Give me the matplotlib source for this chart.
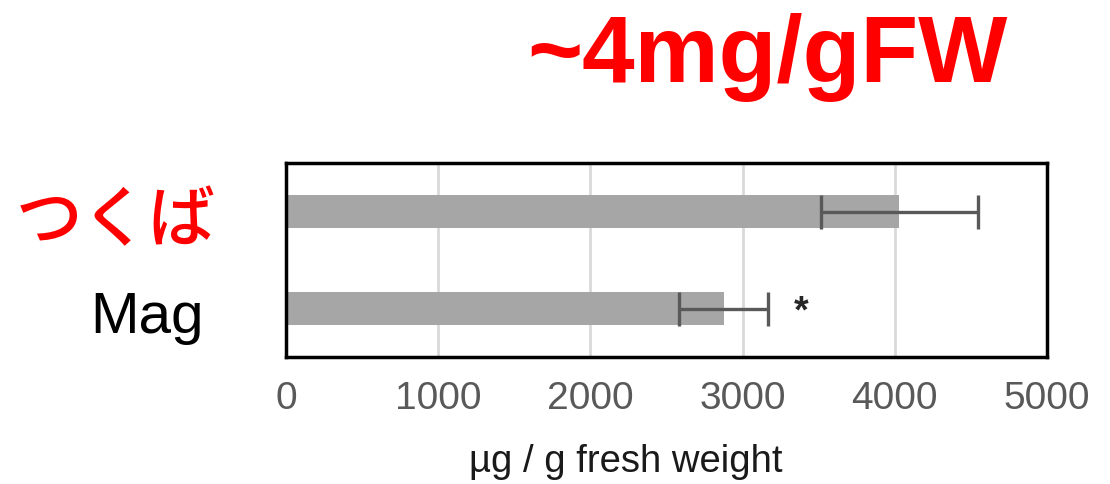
import numpy as np
import matplotlib.pyplot as plt

# data
labels = ["つくば", "Mag"]
means = [4030, 2875]
errs = [515, 290]
ticks = [0, 1000, 2000, 3000, 4000, 5000]
marks = ["", "*"]

plt.rcParams['font.family'] = ['Liberation Sans', 'DejaVu Sans']

fig = plt.figure(figsize=(11.1, 4.84), dpi=100)
ax = fig.add_axes([286 / 1110, 1 - 357 / 484, 761 / 1110, 194 / 484])

ypos = np.array([1, 0])
ax.barh(ypos, means, height=0.34, color="#a6a6a6", zorder=2)
ax.errorbar(means, ypos, xerr=errs, fmt="none", ecolor="#595959",
            elinewidth=2.4, capsize=12, capthick=2.4, zorder=3)
for y, m, e, s in zip(ypos, means, errs, marks):
    if s:
        ax.text(m + e + 220, y - 0.04, s, ha="center", va="center",
                fontsize=27, fontweight="bold", color="#262626")

ax.set_xlim(0, 5000)
ax.set_ylim(-0.5, 1.5)
ax.set_xticks(ticks)
ax.set_xticklabels([str(t) for t in ticks], fontsize=28, color="#595959")
ax.set_yticks([])
ax.tick_params(axis="x", length=0, pad=17)
ax.grid(axis="x", color="#d9d9d9", linewidth=2, zorder=0)
for sp in ax.spines.values():
    sp.set_linewidth(2.5)
    sp.set_color("black")

# axis label, a bit left of the axes centre as in the reference
fig.text(626 / 1110, 1 - 472 / 484, "µg / g fresh weight", ha="center",
         va="baseline", fontsize=27.5, color="#1a1a1a")

# category labels
fig.text(16 / 1110, 1 - 222 / 484, labels[0], ha="left", va="center",
         fontsize=48, fontweight="medium", color="#ff0000",
         family=["Noto Sans CJK JP", "DejaVu Sans"])
fig.text(90 / 1110, 1 - 333 / 484, labels[1], ha="left", va="baseline",
         fontsize=42, color="black")

# big red note
fig.text(767 / 1110, 1 - 82 / 484, "~4mg/gFW", ha="center", va="baseline",
         fontsize=68, fontweight="bold", color="#ff0000")

fig.savefig("out.png", dpi=100)
